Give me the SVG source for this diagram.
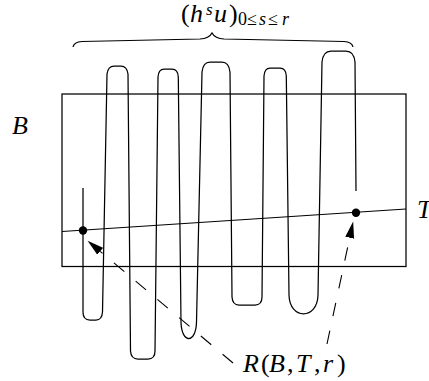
<svg xmlns="http://www.w3.org/2000/svg" width="429" height="381" viewBox="0 0 429 381">
<style>
.ln{fill:none;stroke:#000;stroke-width:1.25}
.dash{fill:none;stroke:#000;stroke-width:1.1;stroke-dasharray:13.6 14.8}
.m{font-family:"Liberation Serif","Times New Roman",serif;fill:#000}
.i{font-style:italic}
</style>
<defs>
<marker id="ah" markerUnits="userSpaceOnUse" markerWidth="17" markerHeight="10" refX="0" refY="5" orient="auto">
<path d="M0,0.5 L16.5,5 L0,9.5 z" fill="#000"/>
</marker>
</defs>
<rect width="429" height="381" fill="#fff"/>
<g id="box">
<rect class="ln" x="62" y="94" width="344" height="172.5"/>
</g>
<g id="curve">
<path class="ln" d="M83,188 L83,312 Q83,320 90,320 L96,320 Q102,320 102.5,312 L107,74 Q108,66 114,66 L121,66 Q127,66 128,74 L130.5,351 Q131,359 138,359 L148,359 Q155,359 155,351 L158,77 Q158.5,69 164,69 L172,69 Q178,69 178.3,77 L181,322 C181.5,344 196,344 196.5,322 L202,72 Q203,62 210,62 L222,62 Q229,62 230,72 L232,297 Q232.5,305 239,305 L255,305 Q262,305 262,297 L264,76 Q264.5,68 270,68 L280,68 Q286,68 286.3,76 L289,295 C289.5,320 317.5,320 318,295 L322,62 Q323,51 331,51 L346,51 Q354,51 355,62 L356,191"/>
</g>
<g id="lineT">
<line class="ln" x1="62" y1="231.5" x2="406" y2="209"/>
<circle cx="83" cy="230.5" r="4.2" fill="#000"/>
<circle cx="356" cy="212.8" r="4.2" fill="#000"/>
</g>
<g id="brace">
<path class="ln" d="M73,47 Q74,42 82,41.5 L200,39 Q209,38.5 212,33 Q215,38.5 224,39 L344,41.5 Q352,42 353,47"/>
</g>
<g id="connectors">
<path class="dash" d="M233,363 L100.2,251.3" marker-end="url(#ah)"/>
<path class="dash" d="M327,344 L349.7,237.7" marker-end="url(#ah)"/>
</g>
<g id="labelB">
<text class="m i" x="12" y="134" font-size="26">B</text>
</g>
<g id="labelT">
<text class="m i" x="417" y="218" font-size="26">T</text>
</g>
<g id="labelTop">
<text class="m" font-size="26"><tspan x="181" y="22">(</tspan><tspan class="i" x="190" y="22">h</tspan><tspan class="i" x="206" y="15" font-size="17">s</tspan><tspan class="i" x="214" y="22">u</tspan><tspan x="229" y="22">)</tspan><tspan x="238" y="25" font-size="18">0</tspan><tspan x="247" y="25" font-size="18">≤</tspan><tspan class="i" x="259" y="25" font-size="18">s</tspan><tspan x="268" y="25" font-size="18">≤</tspan><tspan class="i" x="282" y="25" font-size="18">r</tspan></text>
</g>
<g id="labelR">
<text class="m" font-size="26"><tspan class="i" x="243" y="372">R</tspan><tspan x="261" y="372">(</tspan><tspan class="i" x="269" y="372">B</tspan><tspan x="287" y="372">,</tspan><tspan class="i" x="296" y="372">T</tspan><tspan x="314" y="372">,</tspan><tspan class="i" x="323" y="372">r</tspan><tspan x="337" y="372">)</tspan></text>
</g>
</svg>
